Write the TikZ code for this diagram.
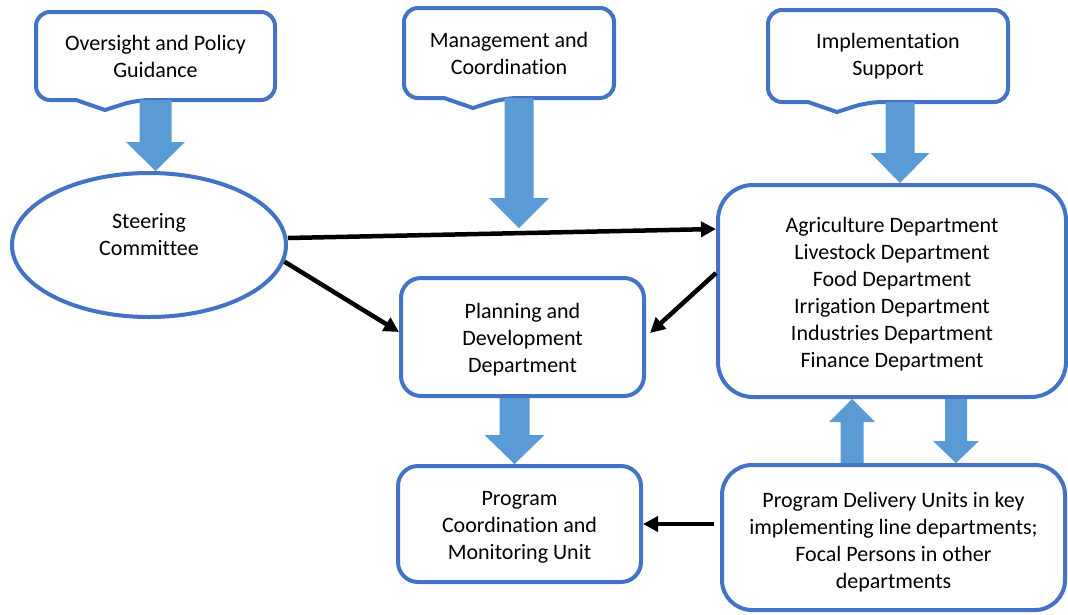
\documentclass[tikz,border=0pt]{standalone}
\usepackage{fontspec}
\setmainfont{Carlito}[Ligatures=NoCommon]
\usepackage{xcolor}
\usetikzlibrary{positioning,shapes,arrows.meta,calc}
\definecolor{boxblue}{HTML}{4472C4}
\definecolor{fatblue}{HTML}{5B9BD5}

% callout outline round a node, pointer below its left part
\newcommand{\calloutline}[1]{%
	\draw[boxline] (#1.north) [rounded corners=14pt] -- (#1.north east) -- (#1.south east)
		-- ([xshift=100pt]#1.south west) [sharp corners] -- ([xshift=69pt,yshift=-10pt]#1.south west)
		-- ([xshift=40pt]#1.south west) [rounded corners=14pt] -- (#1.south west) -- (#1.north west) -- cycle;}

% vertical block arrow: from, to, shaft half width, head half width, head length
\newcommand{\fatarrow}[5]{%
	\fill[fatblue] let \p1=(#1), \p2=(#2), \n1={\y2-sign(\y2-\y1)*#5} in
		(\x1-#3pt,\y1) -- (\x1-#3pt,\n1) -- (\x1-#4pt,\n1) -- (\x1,\y2)
		-- (\x1+#4pt,\n1) -- (\x1+#3pt,\n1) -- (\x1+#3pt,\y1) -- cycle;}

\begin{document}
\begin{tikzpicture}[x=1pt,y=-1pt,line width=4pt,
	every node/.style={font=\fontsize{22}{27}\selectfont,align=center,inner sep=0pt},
	boxline/.style={draw=boxblue,line width=4pt},
	box/.style={boxline,fill=white,rounded corners=#1},
	link/.style={draw=black,line width=4.5pt,-{Triangle[length=15pt,width=15pt]}}]
	\useasboundingbox (0,0) rectangle (1068,614);

	%callouts
	\node[minimum width=235,minimum height=84] (ovs) at (155.5,56) {Oversight and Policy\\Guidance};
	\node[minimum width=206,minimum height=86] (mgmt) at (509,53) {Management and\\Coordination};
	\node[minimum width=236,minimum height=88] (impl) at (888,56) {Implementation\\Support};
	\calloutline{ovs}
	\calloutline{mgmt}
	\calloutline{impl}

	%bodies
	\node[ellipse,boxline,fill=white,minimum width=274,minimum height=144,
		label={[yshift=10pt]center:Steering\\Committee}] (steer) at (149,245) {};
	\node[box=35pt,minimum width=348,minimum height=212,
		label={[yshift=-3pt]center:Agriculture Department\\Livestock Department\\Food Department\\Irrigation Department\\Industries Department\\Finance Department}] (dept) at (892,291) {};
	\node[box=20pt,minimum width=243,minimum height=118,
		label={[yshift=-3pt]center:Planning and\\Development\\Department}] (plan) at (522.5,337) {};
	\node[box=20pt,minimum width=243,minimum height=116,
		label={[yshift=-3pt]center:Program\\Coordination and\\Monitoring Unit}] (pcmu) at (519.5,524) {};
	\node[box=30pt,minimum width=343,minimum height=145,
		label={[yshift=-5pt]center:Program Delivery Units in key\\implementing line departments;\\Focal Persons in other\\departments}] (pdu) at (893.5,537.5) {};

	%block arrows
	\coordinate (a1) at (ovs.south);
	\coordinate (a2) at ([xshift=10pt]mgmt.south);
	\coordinate (a2tip) at (519,228);
	\coordinate (a3) at ([xshift=12pt]impl.south);
	\coordinate (a4) at ([xshift=-8pt]plan.south);
	\coordinate (a5) at ([xshift=-41.5pt]pdu.north);
	\coordinate (a6) at ([xshift=64pt]dept.south);
	\fatarrow{a1}{a1 |- steer.north}{16}{29.5}{29}
	\fatarrow{a2}{a2tip}{14.5}{30}{30}
	\fatarrow{a3}{a3 |- dept.north}{14.5}{29.5}{30}
	\fatarrow{a4}{a4 |- pcmu.north}{15}{30}{29}
	\fatarrow{a5}{a5 |- dept.south}{11.5}{23}{23}
	\fatarrow{a6}{a6 |- pdu.north}{11}{23}{22}

	%links
	\draw[link] ([yshift=7pt]steer.east) -- ([yshift=62pt]dept.west);
	\draw[link] (steer.-7) -- ([yshift=5pt]plan.west);
	\draw[link] ([yshift=18pt]dept.west) -- ([xshift=4pt,yshift=4pt]plan.east);
	\draw[link,shorten <=6pt] (pdu.west |- pcmu.east) -- (pcmu.east);
\end{tikzpicture}
\end{document}
